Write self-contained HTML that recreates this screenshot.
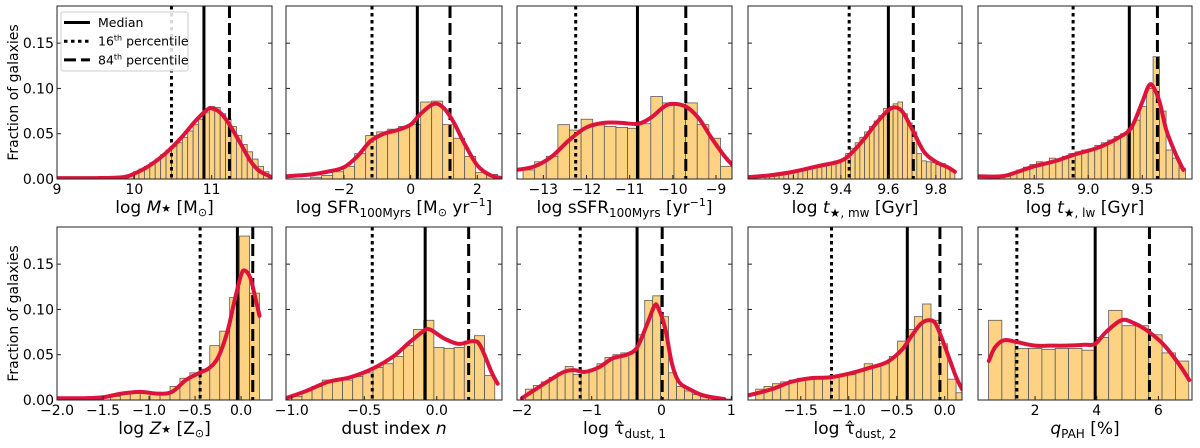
<!DOCTYPE html>
<html><head><meta charset="utf-8">
<style>
html,body{margin:0;padding:0;background:#fff;}
svg{display:block;font-family:"DejaVu Sans","Liberation Sans",sans-serif;}
</style></head>
<body>
<svg id="chart" width="1200" height="448" viewBox="0 0 1200 448" xmlns="http://www.w3.org/2000/svg"></svg>
<script>
// ---------- data ----------
const yTickValues = [0, 0.05, 0.10, 0.15];
const yTickLabels = ["0.00", "0.05", "0.10", "0.15"];

const mstarTicks = [9, 10, 11];
const mstarHeights = [0.003,0.005,0.008,0.011,0.014,0.018,0.022,0.027,0.032,0.036,0.040,0.046,0.053,0.060,0.066,0.073,0.080,0.079,0.072,0.066,0.058,0.048,0.038,0.030,0.022,0.014,0.008];
const mstarKdeX = [9,9.5,9.85,10.0,10.2,10.4,10.6,10.8,10.95,11.0,11.1,11.2,11.3,11.4,11.5,11.6,11.7,11.78];
const mstarKdeY = [0.001,0.001,0.002,0.006,0.015,0.028,0.045,0.065,0.077,0.078,0.074,0.064,0.050,0.035,0.020,0.010,0.005,0.002];
const mstarStats = [10.48, 10.9, 11.23];

const sfrTicks = [-2, 0, 2];
const sfrHeights = [0.002,0.004,0.008,0.014,0.028,0.048,0.052,0.055,0.058,0.060,0.085,0.086,0.060,0.045,0.025,0.007,0.005];
const sfrKdeX = [-3.74,-3,-2.5,-2,-1.6,-1.2,-0.8,-0.4,0,0.3,0.7,1.0,1.3,1.6,2.0,2.4,2.74];
const sfrKdeY = [0.003,0.005,0.008,0.013,0.025,0.042,0.050,0.054,0.060,0.072,0.083,0.078,0.062,0.040,0.015,0.004,0.001];
const sfrStats = [-1.16, 0.2, 1.18];

const ssfrTicks = [-13, -12, -11, -10, -9];
const ssfrHeights = [0.010,0.019,0.025,0.060,0.054,0.066,0.060,0.058,0.057,0.056,0.061,0.091,0.084,0.082,0.084,0.060,0.045,0.014,0.010];
const ssfrKdeX = [-13.61,-13.2,-12.8,-12.4,-12.0,-11.6,-11.2,-10.8,-10.5,-10.2,-10.0,-9.7,-9.4,-9.1,-8.8,-8.63];
const ssfrKdeY = [0.010,0.014,0.025,0.043,0.057,0.062,0.062,0.061,0.068,0.080,0.083,0.080,0.067,0.045,0.025,0.016];
const ssfrStats = [-12.25, -10.82, -9.7];

const tmwTicks = [9.2, 9.4, 9.6, 9.8];
const tmwHeights = [0.002,0.003,0.004,0.005,0.006,0.007,0.008,0.009,0.010,0.011,0.012,0.013,0.015,0.016,0.017,0.018,0.022,0.028,0.034,0.040,0.046,0.052,0.058,0.064,0.070,0.078,0.080,0.083,0.085,0.072,0.062,0.052,0.028,0.020,0.019,0.018,0.016,0.017,0.012,0.010];
const tmwKdeX = [9.01,9.1,9.2,9.3,9.4,9.45,9.5,9.55,9.6,9.63,9.66,9.7,9.75,9.8,9.85,9.88];
const tmwKdeY = [0.002,0.004,0.008,0.014,0.020,0.030,0.045,0.062,0.076,0.079,0.074,0.055,0.030,0.019,0.013,0.008];
const tmwStats = [9.435, 9.6, 9.705];

const tlwTicks = [8.5, 9.0, 9.5];
const tlwHeights = [0.002,0.002,0.003,0.006,0.010,0.013,0.016,0.019,0.018,0.023,0.022,0.025,0.028,0.030,0.032,0.033,0.037,0.040,0.043,0.047,0.050,0.055,0.065,0.080,0.100,0.135,0.075,0.032,0.023,0.012];
const tlwKdeX = [7.98,8.2,8.35,8.5,8.7,8.9,9.1,9.3,9.4,9.5,9.56,9.6,9.66,9.72,9.8,9.88];
const tlwKdeY = [0.003,0.003,0.008,0.014,0.020,0.028,0.035,0.047,0.057,0.085,0.103,0.102,0.085,0.055,0.030,0.010];
const tlwStats = [8.86, 9.38, 9.64];

const zTicks = [-2.0, -1.5, -1.0, -0.5, 0.0];
const zHeights = [0.004,0.008,0.009,0.008,0.007,0.008,0.015,0.024,0.030,0.034,0.060,0.076,0.113,0.181,0.118];
const zKdeX = [-2,-1.7,-1.5,-1.3,-1.1,-0.9,-0.75,-0.6,-0.45,-0.35,-0.25,-0.15,-0.07,0.0,0.04,0.1,0.15,0.2];
const zKdeY = [0.002,0.002,0.003,0.007,0.009,0.007,0.009,0.022,0.030,0.035,0.047,0.075,0.110,0.138,0.143,0.135,0.115,0.093];
const zStats = [-0.445, -0.04, 0.127];

const dustTicks = [-1.0, -0.5, 0.0];
const dustHeights = [0.004,0.010,0.015,0.022,0.022,0.022,0.026,0.030,0.036,0.040,0.048,0.060,0.078,0.088,0.058,0.057,0.058,0.065,0.071,0.027];
const dustKdeX = [-1.04,-0.9,-0.75,-0.6,-0.45,-0.3,-0.2,-0.1,-0.05,0.05,0.15,0.25,0.3,0.38,0.42];
const dustKdeY = [0.002,0.010,0.020,0.025,0.034,0.048,0.062,0.075,0.078,0.068,0.062,0.065,0.060,0.030,0.018];
const dustStats = [-0.445, -0.08, 0.22];

const tau1Ticks = [-2, -1, 0, 1];
const tau1Heights = [0.012,0.016,0.020,0.025,0.030,0.037,0.028,0.030,0.034,0.040,0.047,0.050,0.052,0.053,0.072,0.110,0.115,0.092,0.030,0.015,0.010,0.006,0.004,0.002,0.001,0.001];
const tau1KdeX = [-2.0,-1.8,-1.6,-1.4,-1.25,-1.1,-0.9,-0.7,-0.5,-0.35,-0.2,-0.1,-0.05,0.05,0.15,0.25,0.4,0.6,0.9];
const tau1KdeY = [0.002,0.012,0.022,0.031,0.033,0.031,0.036,0.046,0.050,0.058,0.085,0.104,0.102,0.080,0.040,0.020,0.012,0.005,0.001];
const tau1Stats = [-1.165, -0.35, 0.01];

const tau2Ticks = [-1.5, -1.0, -0.5, 0.0];
const tau2Heights = [0.012,0.015,0.018,0.020,0.022,0.024,0.024,0.024,0.024,0.025,0.027,0.028,0.032,0.040,0.038,0.040,0.048,0.065,0.078,0.092,0.106,0.088,0.062,0.023,0.008];
const tau2KdeX = [-2.05,-1.8,-1.6,-1.4,-1.2,-1.0,-0.8,-0.6,-0.45,-0.35,-0.25,-0.17,-0.1,-0.03,0.05,0.12,0.18];
const tau2KdeY = [0.005,0.012,0.020,0.024,0.025,0.029,0.035,0.042,0.055,0.070,0.084,0.088,0.085,0.068,0.045,0.025,0.012];
const tau2Stats = [-1.18, -0.39, -0.05];

const qpahTicks = [2, 4, 6];
const qpahHeights = [0.088,0.066,0.057,0.057,0.056,0.057,0.057,0.055,0.069,0.099,0.082,0.082,0.072,0.052,0.043];
const qpahKdeX = [0.5,0.7,1.0,1.4,2.0,2.5,3.0,3.6,3.95,4.3,4.8,5.2,5.7,6.2,6.7,7.0];
const qpahKdeY = [0.043,0.058,0.066,0.064,0.060,0.060,0.060,0.061,0.062,0.075,0.088,0.085,0.075,0.060,0.038,0.022];
const qpahStats = [1.41, 3.95, 5.71];

// ---------- layout ----------
const NS = "http://www.w3.org/2000/svg";
const svg = document.getElementById("chart");
const YMAX = 0.191;
function mk(tag, attrs, parent){ const e=document.createElementNS(NS,tag); for(const k in attrs) e.setAttribute(k,attrs[k]); (parent||svg).appendChild(e); return e; }

const panels = [
 {id:"log-mstar", x0:57, y0:6, w:215, h:173, xmin:9, xmax:11.78, binStart:9.85, binW:0.07, heights:mstarHeights, kx:mstarKdeX, ky:mstarKdeY, stats:mstarStats, ticks:mstarTicks, dec:0, label:'log <tspan font-style="italic">M</tspan><tspan font-size="11" dy="-1">★</tspan><tspan dy="1"> [M</tspan><tspan font-size="11" dy="3">⊙</tspan><tspan dy="-3">]</tspan>', ylab:true},
 {id:"log-sfr", x0:286, y0:6, w:216, h:173, xmin:-3.74, xmax:2.74, binStart:-3.0, binW:0.33, heights:sfrHeights, kx:sfrKdeX, ky:sfrKdeY, stats:sfrStats, ticks:sfrTicks, dec:0, label:'log SFR<tspan font-size="12" dy="4">100Myrs</tspan><tspan dy="-4"> [M</tspan><tspan font-size="11" dy="3">⊙</tspan><tspan dy="-3"> yr</tspan><tspan font-size="11" dy="-7">−1</tspan><tspan dy="7">]</tspan>'},
 {id:"log-ssfr", x0:517, y0:6, w:215, h:173, xmin:-13.61, xmax:-8.63, binStart:-13.47, binW:0.269, heights:ssfrHeights, kx:ssfrKdeX, ky:ssfrKdeY, stats:ssfrStats, ticks:ssfrTicks, dec:0, label:'log sSFR<tspan font-size="12" dy="4">100Myrs</tspan><tspan dy="-4"> [yr</tspan><tspan font-size="11" dy="-7">−1</tspan><tspan dy="7">]</tspan>'},
 {id:"log-t-mw", x0:748, y0:6, w:214, h:173, xmin:9.009, xmax:9.91, binStart:9.08, binW:0.02, heights:tmwHeights, kx:tmwKdeX, ky:tmwKdeY, stats:tmwStats, ticks:tmwTicks, dec:1, label:'log <tspan font-style="italic">t</tspan><tspan font-size="12" dy="4">★, mw</tspan><tspan dy="-4"> [Gyr]</tspan>'},
 {id:"log-t-lw", x0:978, y0:6, w:214, h:173, xmin:7.98, xmax:9.96, binStart:8.1, binW:0.06, heights:tlwHeights, kx:tlwKdeX, ky:tlwKdeY, stats:tlwStats, ticks:tlwTicks, dec:1, label:'log <tspan font-style="italic">t</tspan><tspan font-size="12" dy="4">★, lw</tspan><tspan dy="-4"> [Gyr]</tspan>'},
 {id:"log-z", x0:57, y0:227, w:215, h:173, xmin:-2.0, xmax:0.336, binStart:-1.42, binW:0.108, heights:zHeights, kx:zKdeX, ky:zKdeY, stats:zStats, ticks:zTicks, dec:1, label:'log <tspan font-style="italic">Z</tspan><tspan font-size="11" dy="-1">★</tspan><tspan dy="1"> [Z</tspan><tspan font-size="11" dy="3">⊙</tspan><tspan dy="-3">]</tspan>', ylab:true},
 {id:"dust-index", x0:286, y0:227, w:216, h:173, xmin:-1.04, xmax:0.45, binStart:-1.0, binW:0.07, heights:dustHeights, kx:dustKdeX, ky:dustKdeY, stats:dustStats, ticks:dustTicks, dec:1, label:'dust index <tspan font-style="italic">n</tspan>'},
 {id:"log-tau1", x0:517, y0:227, w:215, h:173, xmin:-2.07, xmax:1.01, binStart:-1.95, binW:0.114, heights:tau1Heights, kx:tau1KdeX, ky:tau1KdeY, stats:tau1Stats, ticks:tau1Ticks, dec:0, label:'log τ̂<tspan font-size="12" dy="4">dust, 1</tspan>'},
 {id:"log-tau2", x0:748, y0:227, w:214, h:173, xmin:-2.05, xmax:0.18, binStart:-1.97, binW:0.087, heights:tau2Heights, kx:tau2KdeX, ky:tau2KdeY, stats:tau2Stats, ticks:tau2Ticks, dec:1, label:'log τ̂<tspan font-size="12" dy="4">dust, 2</tspan>'},
 {id:"qpah", x0:978, y0:227, w:214, h:173, xmin:0.15, xmax:7.09, binStart:0.49, binW:0.433, heights:qpahHeights, kx:qpahKdeX, ky:qpahKdeY, stats:qpahStats, ticks:qpahTicks, dec:0, label:'<tspan font-style="italic">q</tspan><tspan font-size="12" dy="4">PAH</tspan><tspan dy="-4"> [%]</tspan>'}
];

function fmt(v,dec){ const s=v.toFixed(dec); return s.replace("-","−"); }

function smoothPath(pts){
  let d="M"+pts[0][0].toFixed(2)+","+pts[0][1].toFixed(2);
  for(let i=0;i<pts.length-1;i++){
    const p0=pts[i-1]||pts[i], p1=pts[i], p2=pts[i+1], p3=pts[i+2]||pts[i+1];
    const c1=[p1[0]+(p2[0]-p0[0])/6, p1[1]+(p2[1]-p0[1])/6];
    const c2=[p2[0]-(p3[0]-p1[0])/6, p2[1]-(p3[1]-p1[1])/6];
    d+=" C"+c1[0].toFixed(2)+","+c1[1].toFixed(2)+" "+c2[0].toFixed(2)+","+c2[1].toFixed(2)+" "+p2[0].toFixed(2)+","+p2[1].toFixed(2);
  }
  return d;
}

panels.forEach((p,pi)=>{
  const g = mk("g",{});
  
  
  const sx = v => p.x0 + (v-p.xmin)/(p.xmax-p.xmin)*p.w;
  const sy = v => p.y0 + p.h - v/YMAX*p.h;
  const clipId="clip"+pi;
  const cp=mk("clipPath",{id:clipId},g); mk("rect",{x:p.x0,y:p.y0,width:p.w,height:p.h},cp);
  const inner=mk("g",{"clip-path":"url(#"+clipId+")"},g);
  p.heights.forEach((h,i)=>{
    const a=p.binStart+i*p.binW, b=a+p.binW;
    const r=mk("rect",{x:sx(a),y:sy(h),width:Math.max(0,sx(b)-sx(a)),height:sy(0)-sy(h),fill:"#fdd283","stroke":"#5a5a5a","stroke-width":"0.8"},inner);
    
    
  });
  const styles=[{n:"p16-line",dash:"3.5,3.5"},{n:"median-line",dash:""},{n:"p84-line",dash:"12,5"}];
  p.stats.forEach((v,i)=>{
    const l=mk("line",{x1:sx(v),x2:sx(v),y1:p.y0,y2:p.y0+p.h,stroke:"#000","stroke-width":"3"},inner);
    if(styles[i].dash) l.setAttribute("stroke-dasharray",styles[i].dash);
    
    
  });
  const pts=p.kx.map((x,i)=>[sx(x),sy(p.ky[i])]);
  const k=mk("path",{d:smoothPath(pts),fill:"none",stroke:"#dc143c","stroke-width":"4","stroke-linecap":"round","stroke-linejoin":"round"},inner);
  
  
  const fr=mk("rect",{x:p.x0,y:p.y0,width:p.w,height:p.h,fill:"none",stroke:"#222","stroke-width":"1"},g);
  
  
  yTickValues.forEach((v,i)=>{
    const y=sy(v);
    mk("line",{x1:p.x0,x2:p.x0+4,y1:y,y2:y,stroke:"#222","stroke-width":"1"},g);
    mk("line",{x1:p.x0+p.w-4,x2:p.x0+p.w,y1:y,y2:y,stroke:"#222","stroke-width":"1"},g);
    if(p.ylab){
      const t=mk("text",{x:p.x0-3,y:y+5,"text-anchor":"end","font-size":"14",fill:"#000"},g);
      t.textContent=yTickLabels[i];
      
      
    }
  });
  p.ticks.forEach(v=>{
    const x=sx(v);
    mk("line",{x1:x,x2:x,y1:p.y0+p.h-4,y2:p.y0+p.h,stroke:"#222","stroke-width":"1"},g);
    const t=mk("text",{x:x,y:p.y0+p.h+15,"text-anchor":"middle","font-size":"14",fill:"#000"},g);
    t.textContent=fmt(v,p.dec);
    
    
  });
  const xl=mk("text",{x:p.x0+p.w/2,y:p.y0+p.h+34,"text-anchor":"middle","font-size":"17",fill:"#000"},g);
  xl.innerHTML=p.label;
  
  
  if(p.ylab){
    const cy=p.y0+p.h/2;
    const yl=mk("text",{x:18,y:cy,"text-anchor":"middle","font-size":"14",transform:"rotate(-90 18 "+cy+")",fill:"#000"},g);
    yl.textContent="Fraction of galaxies";
    
    
  }
});

const lg=mk("g",{});


mk("rect",{x:61,y:12,width:127,height:59,fill:"#fff","fill-opacity":"0.85",stroke:"#ccc","stroke-width":"1",rx:"2"},lg);
const legItems=[{t:'Median',d:""},{t:'16<tspan font-size="8" dy="-5">th</tspan><tspan dy="5"> percentile</tspan>',d:"3.5,3.5"},{t:'84<tspan font-size="8" dy="-5">th</tspan><tspan dy="5"> percentile</tspan>',d:"12,5"}];
legItems.forEach((it,i)=>{
  const y=22.5+i*18.7;
  const e=mk("g",{},lg);
  
  
  const l=mk("line",{x1:64,x2:90,y1:y,y2:y,stroke:"#000","stroke-width":"3"},e);
  if(it.d) l.setAttribute("stroke-dasharray",it.d);
  const t=mk("text",{x:98,y:y+4.5,"font-size":"12.5",fill:"#000"},e);
  t.innerHTML=it.t;
});
</script>
</body></html>
